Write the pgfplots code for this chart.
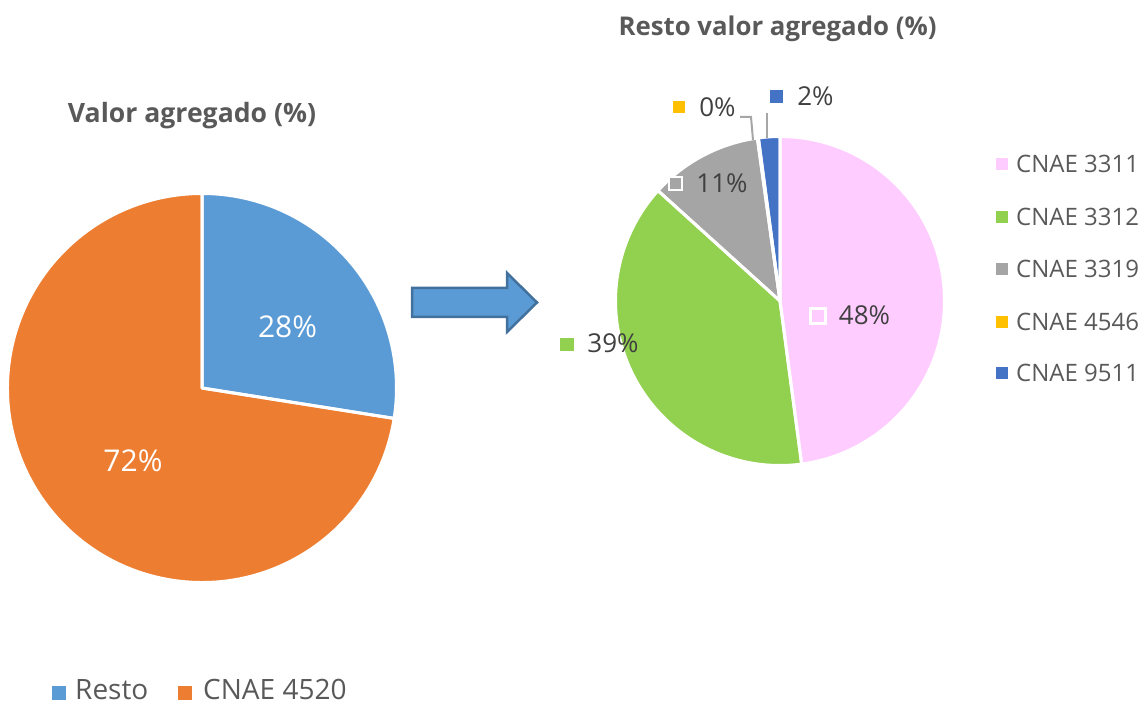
\documentclass[border=0pt]{standalone}
\usepackage{pgfplots}
\pgfplotsset{compat=1.18}
\usepackage{fontspec}
\setmainfont{Open Sans}
\definecolor{cResto}{HTML}{5B9BD5}
\definecolor{cOrange}{HTML}{ED7D31}
\definecolor{cPink}{HTML}{FFCCFF}
\definecolor{cGreen}{HTML}{92D050}
\definecolor{cGray}{HTML}{A5A5A5}
\definecolor{cYellow}{HTML}{FFC000}
\definecolor{cBlue}{HTML}{4472C4}
\definecolor{cArrowEdge}{HTML}{41719C}
\definecolor{cText}{HTML}{595959}
\definecolor{cLab}{HTML}{404040}
\definecolor{cLead}{HTML}{A6A6A6}
% center x, center y, radius, cumulative percent before, percent, colour
\newcommand{\pieslice}[6]{\fill[#6] (axis cs:#1,#2) -- ++({90-3.6*(#4)}:#3pt) arc[start angle={90-3.6*(#4)}, delta angle={-3.6*(#5)}, radius=#3pt] -- cycle;}
\newcommand{\pieborder}[5]{\draw[white, line width=3pt, line join=round] (axis cs:#1,#2) -- ++({90-3.6*(#4)}:#3pt) arc[start angle={90-3.6*(#4)}, delta angle={-3.6*(#5)}, radius=#3pt] -- cycle;}
\begin{document}
\begin{tikzpicture}
\begin{axis}[name=ax, x=1pt, y=1pt, xmin=0, xmax=1148, ymin=0, ymax=711,
  hide axis, clip=false, scale only axis]
\addplot[draw=none] coordinates {(0,0) (1148,711)};
% ---- left pie: Resto 27.5, CNAE 4520 72.5
\pieslice{202}{323}{194.5}{0}{27.5}{cResto}
\pieslice{202}{323}{194.5}{27.5}{72.5}{cOrange}
\pieborder{202}{323}{194.5}{0}{27.5}
\pieborder{202}{323}{194.5}{27.5}{72.5}
% ---- right pie
\pieslice{780}{410}{164.5}{0}{47.9}{cPink}
\pieslice{780}{410}{164.5}{47.9}{38.8}{cGreen}
\pieslice{780}{410}{164.5}{86.7}{11.1}{cGray}
\pieslice{780}{410}{164.5}{97.8}{0.1}{cYellow}
\pieslice{780}{410}{164.5}{97.9}{2.1}{cBlue}
\pieborder{780}{410}{164.5}{0}{47.9}
\pieborder{780}{410}{164.5}{47.9}{38.8}
\pieborder{780}{410}{164.5}{86.7}{11.1}
\pieborder{780}{410}{164.5}{97.8}{0.1}
\pieborder{780}{410}{164.5}{97.9}{2.1}
% ---- arrow
\addplot[fill=cResto, draw=cArrowEdge, line width=2.5pt, line join=miter]
  coordinates {(412,423) (507,423) (507,438) (537,408.5) (507,379) (507,394) (412,394)} -- cycle;
% ---- leader lines
\addplot[cLead, line width=2pt] coordinates {(740,594) (751,594) (753,571)};
\addplot[cLead, line width=2pt] coordinates {(767,598) (767,573)};
% ---- label keys (right pie)
\addplot[only marks, mark=square*, mark size=7.5pt, mark options={fill=cPink, draw=white, line width=2.5pt}] coordinates {(818,395)};
\addplot[only marks, mark=square*, mark size=6.3pt, mark options={fill=cGreen, draw=cGreen, line width=0.2pt}] coordinates {(566.5,367)};
\addplot[only marks, mark=square*, mark size=6.5pt, mark options={fill=cGray, draw=white, line width=2pt}] coordinates {(675.5,527)};
\addplot[only marks, mark=square*, mark size=5.5pt, mark options={fill=cYellow, draw=cYellow, line width=0.2pt}] coordinates {(678.5,604.5)};
\addplot[only marks, mark=square*, mark size=6pt, mark options={fill=cBlue, draw=cBlue, line width=0.2pt}] coordinates {(776,615)};
% ---- right legend keys
\addplot[only marks, mark=square*, mark size=5.5pt, mark options={fill=cPink, draw=cPink, line width=0.2pt}] coordinates {(1001.5,547)};
\addplot[only marks, mark=square*, mark size=5.5pt, mark options={fill=cGreen, draw=cGreen, line width=0.2pt}] coordinates {(1001.5,494)};
\addplot[only marks, mark=square*, mark size=5.5pt, mark options={fill=cGray, draw=cGray, line width=0.2pt}] coordinates {(1001.5,442)};
\addplot[only marks, mark=square*, mark size=5.5pt, mark options={fill=cYellow, draw=cYellow, line width=0.2pt}] coordinates {(1001.5,389)};
\addplot[only marks, mark=square*, mark size=5.5pt, mark options={fill=cBlue, draw=cBlue, line width=0.2pt}] coordinates {(1001.5,338)};
% ---- left legend keys
\addplot[only marks, mark=square*, mark size=6.5pt, mark options={fill=cResto, draw=cResto, line width=0.2pt}] coordinates {(58.5,18.5)};
\addplot[only marks, mark=square*, mark size=6.5pt, mark options={fill=cOrange, draw=cOrange, line width=0.2pt}] coordinates {(185,18.5)};
% ---- titles
\node[anchor=base, text=cText, font=\fontsize{26.6}{32}\selectfont\bfseries, inner sep=0pt] at (axis cs:192,588) {Valor agregado (\%)};
\node[anchor=base, text=cText, font=\fontsize{25.8}{31}\selectfont\bfseries, inner sep=0pt] at (axis cs:777.5,675) {Resto valor agregado (\%)};
% ---- left pie labels
\node[anchor=base, text=white, font=\fontsize{30}{36}\selectfont, inner sep=0pt] at (axis cs:287.5,373) {28\%};
\node[anchor=base, text=white, font=\fontsize{30}{36}\selectfont, inner sep=0pt] at (axis cs:133,239) {72\%};
% ---- right pie labels
\node[anchor=base, text=cLab, font=\fontsize{26}{31}\selectfont, inner sep=0pt] at (axis cs:864.5,386) {48\%};
\node[anchor=base, text=cLab, font=\fontsize{26}{31}\selectfont, inner sep=0pt] at (axis cs:613,358) {39\%};
\node[anchor=base, text=cLab, font=\fontsize{26}{31}\selectfont, inner sep=0pt] at (axis cs:722,518) {11\%};
\node[anchor=base, text=cLab, font=\fontsize{26}{31}\selectfont, inner sep=0pt] at (axis cs:717.5,594) {0\%};
\node[anchor=base, text=cLab, font=\fontsize{26}{31}\selectfont, inner sep=0pt] at (axis cs:815.5,605) {2\%};
% ---- right legend text
\node[anchor=base west, text=cText, font=\fontsize{24}{29}\selectfont, inner sep=0pt] at (axis cs:1016,538) {CNAE 3311};
\node[anchor=base west, text=cText, font=\fontsize{24}{29}\selectfont, inner sep=0pt] at (axis cs:1016,485) {CNAE 3312};
\node[anchor=base west, text=cText, font=\fontsize{24}{29}\selectfont, inner sep=0pt] at (axis cs:1016,433) {CNAE 3319};
\node[anchor=base west, text=cText, font=\fontsize{24}{29}\selectfont, inner sep=0pt] at (axis cs:1016,380) {CNAE 4546};
\node[anchor=base west, text=cText, font=\fontsize{24}{29}\selectfont, inner sep=0pt] at (axis cs:1016,329) {CNAE 9511};
% ---- left legend text
\node[anchor=base west, text=cText, font=\fontsize{28}{34}\selectfont, inner sep=0pt] at (axis cs:75,11) {Resto};
\node[anchor=base west, text=cText, font=\fontsize{28}{34}\selectfont, inner sep=0pt] at (axis cs:203,11) {CNAE 4520};
\end{axis}
\pgfresetboundingbox
\useasboundingbox (ax.south west) rectangle (ax.north east);
\end{tikzpicture}
\end{document}
